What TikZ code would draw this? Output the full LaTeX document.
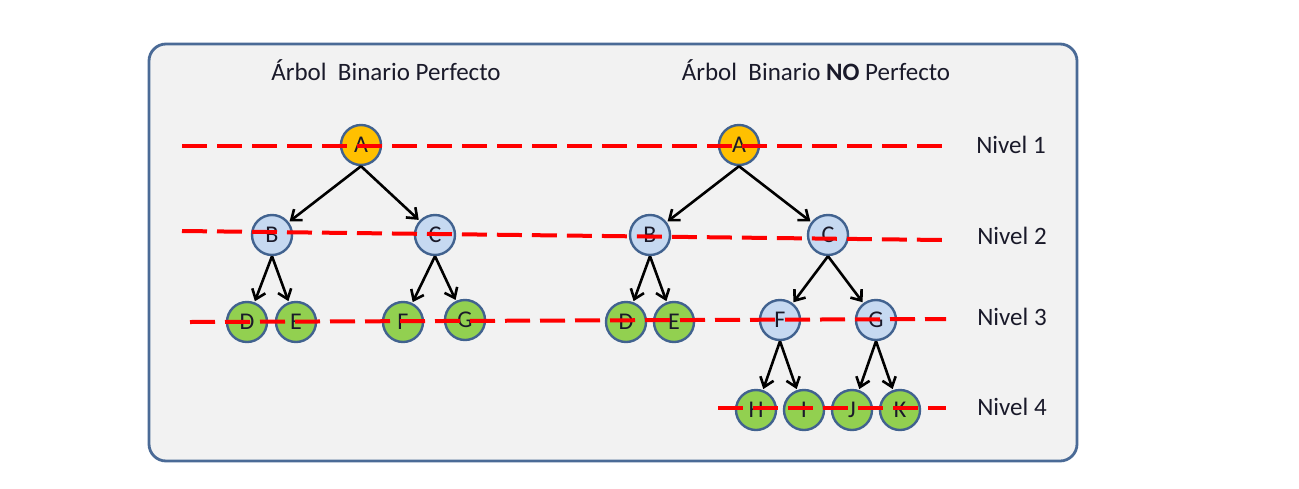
\documentclass[tikz,border=0pt]{standalone}
\usepackage{fontspec}
\setmainfont{Carlito}
\usetikzlibrary{arrows.meta}
\definecolor{frameblue}{HTML}{4A6A96}
\definecolor{framefill}{HTML}{F2F2F2}
\definecolor{nodeborder}{HTML}{41628F}
\definecolor{orangefill}{HTML}{FFC000}
\definecolor{bluefill}{HTML}{C6D9F1}
\definecolor{greenfill}{HTML}{92D050}
\definecolor{txt}{HTML}{1A1A2A}
\tikzset{
  tn/.style={circle, draw=nodeborder, line width=2.4pt, minimum size=40pt, inner sep=0pt, font=\fontsize{24}{26}\selectfont, text=txt},
  rootn/.style={tn, fill=orangefill},
  midn/.style={tn, fill=bluefill},
  leafn/.style={tn, fill=greenfill},
  edge/.style={-{Straight Barb[length=9pt,width=14pt,line width=2.6pt]}, line width=2.6pt, black, shorten >=1pt},
  level/.style={red, line width=4pt, dash pattern=on 25pt off 10pt},
  lbl/.style={font=\fontsize{25}{28}\selectfont, text=txt, inner sep=0pt},
}
\begin{document}
\begin{tikzpicture}[x=1pt,y=-1pt]
\useasboundingbox (0,0) rectangle (1299,488);
\draw[frameblue, line width=2.8pt, fill=framefill, rounded corners=17pt] (149,44) rectangle (1077,461);
% titles
\node[lbl] (t1) at (386,70) {Árbol\ \ Binario Perfecto};
\node[lbl] (t2) at (816,70) {Árbol\ \ Binario \textbf{NO} Perfecto};
% level labels
\node[lbl] (n1) at (1011,145) {Nivel 1};
\node[lbl] (n2) at (1012,236) {Nivel 2};
\node[lbl] (n3) at (1012,317) {Nivel 3};
\node[lbl] (n4) at (1012,407) {Nivel 4};
% left tree
\node[rootn] (lA) at (361,145) {A};
\node[midn] (lB) at (272,235) {B};
\node[midn] (lC) at (435,235) {C};
\node[leafn] (lD) at (247,322) {D};
\node[leafn] (lE) at (296,322) {E};
\node[leafn] (lF) at (403,322) {F};
\node[leafn] (lG) at (465,320) {G};
% right tree
\node[rootn] (rA) at (739,145) {A};
\node[midn] (rB) at (650,235) {B};
\node[midn] (rC) at (828,235) {C};
\node[leafn] (rD) at (626,322) {D};
\node[leafn] (rE) at (674,322) {E};
\node[midn] (rF) at (780,320) {F};
\node[midn] (rG) at (876,320) {G};
\node[leafn] (rH) at (756,410) {H};
\node[leafn] (rI) at (804,410) {I};
\node[leafn] (rJ) at (852,410) {J};
\node[leafn] (rK) at (900,410) {K};
% edges
\foreach \p/\c in {lA/lB,lA/lC,lB/lD,lB/lE,lC/lF,lC/lG,rA/rB,rA/rC,rB/rD,rB/rE,rC/rF,rC/rG,rF/rH,rF/rI,rG/rJ,rG/rK}
  \draw[edge] (\p.south) -- (\c);
% level lines
\coordinate (l1a) at (182,146); \coordinate (l1b) at (942,146);
\coordinate (l2a) at (182,231); \coordinate (l2b) at (942,240);
\coordinate (l3a) at (190,322); \coordinate (l3b) at (946,319);
\coordinate (l4a) at (718,408); \coordinate (l4b) at (946,408);
\draw[level] (l1a) -- (l1b);
\draw[level] (l2a) -- (l2b);
\draw[level] (l3a) -- (l3b);
\draw[level] (l4a) -- (l4b);
\end{tikzpicture}
\end{document}
